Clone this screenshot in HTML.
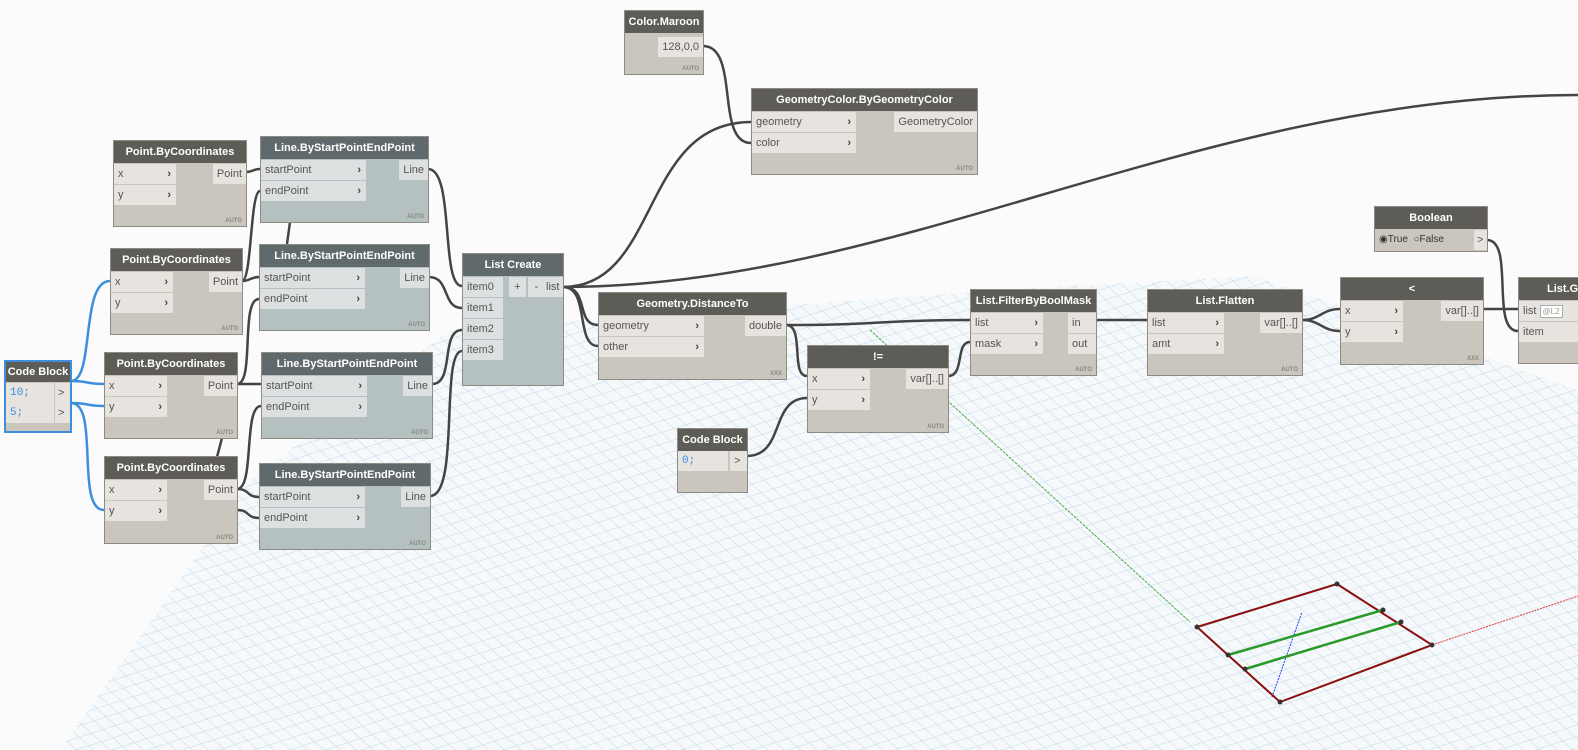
<!DOCTYPE html>
<html><head><meta charset="utf-8">
<style>
html,body{margin:0;padding:0}
body{width:1578px;height:750px;position:relative;overflow:hidden;background:#fbfbfb;font-family:"Liberation Sans",sans-serif;font-size:11px;color:#555}
.n{position:absolute;background:#cac6be;border:1px solid #8e8b85;box-sizing:border-box}
.n.l{background:#b5c1c0}
.h{height:22px;line-height:22px;background:#5d5c56;color:#fff;font-weight:bold;text-align:center;font-size:11px;white-space:nowrap;overflow:hidden}
.l .h{background:#60696b}
.r{position:absolute;height:20px;line-height:20px;background:#e7e4df;padding-left:4px;box-sizing:border-box;white-space:nowrap}
.l .r{background:#dde0e1}
.r b{position:absolute;right:5px;top:0;font-weight:bold;color:#444}
.o{position:absolute;height:20px;line-height:20px;background:#e7e4df;right:0;padding:0 4px;box-sizing:border-box;white-space:nowrap}
.l .o{background:#dde0e1}
.a{position:absolute;right:4px;bottom:2px;font-size:6px;font-weight:bold;color:#8a877f}
.cb{color:#3b8ee0;font-family:"Liberation Mono",monospace}
svg{position:absolute;left:0;top:0}
</style></head><body>
<svg width="1578" height="750">
<defs>
<pattern id="pa" width="11" height="11" patternUnits="userSpaceOnUse" patternTransform="rotate(-48)"><line x1="0" y1="0" x2="0" y2="11" stroke="#c6dae6" stroke-width="1.1"/></pattern>
<pattern id="pb" width="11" height="11" patternUnits="userSpaceOnUse" patternTransform="rotate(-108)"><line x1="0" y1="0" x2="0" y2="11" stroke="#c6dae6" stroke-width="1.1"/></pattern>
<clipPath id="gc"><polygon points="60,750 250,480 450,330 1000,290 1255,276 1578,390 1578,750"/></clipPath>
</defs>
<g clip-path="url(#gc)">
<rect width="1578" height="750" fill="#f6f9fb"/>
<rect width="1578" height="750" fill="url(#pa)"/>
<rect width="1578" height="750" fill="url(#pb)"/>
</g>
<line x1="870" y1="330" x2="1190" y2="622" stroke="#4caa4c" stroke-width="1" stroke-dasharray="3,1"/>
<line x1="1432" y1="645" x2="1578" y2="596" stroke="#f04040" stroke-width="1" stroke-dasharray="2,1"/>
<line x1="1272" y1="697" x2="1302" y2="612" stroke="#2a3ff0" stroke-width="1" stroke-dasharray="2,1"/>
<g stroke="#8b1010" stroke-width="2" fill="none"><polygon points="1197,627 1337,584 1432,645 1280,702"/></g>
<g stroke="#2a9a2a" stroke-width="2.5"><line x1="1228" y1="655" x2="1383" y2="610"/><line x1="1245" y1="669" x2="1401" y2="622"/></g>
<g fill="#333"><circle cx="1197" cy="627" r="2.5"/><circle cx="1337" cy="584" r="2.5"/><circle cx="1432" cy="645" r="2.5"/><circle cx="1280" cy="702" r="2.5"/><circle cx="1228" cy="655" r="2.5"/><circle cx="1383" cy="610" r="2.5"/><circle cx="1245" cy="669" r="2.5"/><circle cx="1401" cy="622" r="2.5"/></g>
<g stroke="#3d8fdc" stroke-width="2.5" fill="none">
<path d="M71,381 C95,381 80,281 110,281"/>
<path d="M71,381 C90,381 85,384 104,384"/>
<path d="M71,403 C90,403 85,406 104,406"/>
<path d="M71,403 C100,403 75,510 104,510"/>
</g>
<g stroke="#444" stroke-width="2.5" fill="none">
<path d="M246,172 C253,172 253,169 260,169"/>
<path d="M242,281 C252,281 250,191 260,191"/>
<path d="M242,281 C250,281 251,277 259,277"/>
<path d="M237,384 C255,384 240,299 259,299"/>
<path d="M237,384 C250,384 248,384 261,384"/>
<path d="M237,489 C255,489 243,406 261,406"/>
<path d="M237,489 C250,489 246,497 259,497"/>
<path d="M237,510 C250,510 246,518 259,518"/>
<path d="M290,222 L287,244"/>
<path d="M222,438 L217,457"/>
<path d="M428,169 C455,169 440,286 462,286"/>
<path d="M429,277 C450,277 442,308 462,308"/>
<path d="M432,384 C455,384 440,330 462,330"/>
<path d="M430,496 C460,496 440,351 462,351"/>
<path d="M563,287 C660,287 640,122 751,122"/>
<path d="M703,46 C740,46 715,143 751,143"/>
<path d="M563,287 C900,287 1200,95 1578,95"/>
<path d="M563,287 C590,287 575,325 598,325"/>
<path d="M563,287 C590,287 575,346 598,346"/>
<path d="M786,325 C880,325 880,320 970,320"/>
<path d="M786,325 C805,325 790,376 807,376"/>
<path d="M747,456 C785,456 770,398 807,398"/>
<path d="M948,376 C965,376 955,342 970,342"/>
<path d="M1096,320 L1147,320"/>
<path d="M1302,320 C1320,320 1322,309 1340,309"/>
<path d="M1302,320 C1320,320 1322,331 1340,331"/>
<path d="M1483,309 L1518,309"/>
<path d="M1487,240 C1515,240 1490,331 1518,331"/>
</g>
</svg>

<div class="n" style="left:624px;top:10px;width:80px;height:65px"><div class="h">Color.Maroon</div><div class="o" style="top:26px">128,0,0</div><div class="a">AUTO</div></div>
<div class="n" style="left:751px;top:88px;width:227px;height:87px"><div class="h">GeometryColor.ByGeometryColor</div>
<div class="r" style="left:0;top:23px;width:104px">geometry<b>›</b></div><div class="r" style="left:0;top:44px;width:104px">color<b>›</b></div>
<div class="o" style="top:23px">GeometryColor</div><div class="a">AUTO</div></div>

<div class="n" style="left:113px;top:140px;width:134px;height:87px"><div class="h">Point.ByCoordinates</div><div class="r" style="left:0;top:23px;width:62px">x<b>›</b></div><div class="r" style="left:0;top:44px;width:62px">y<b>›</b></div><div class="o" style="top:23px">Point</div><div class="a">AUTO</div></div>
<div class="n" style="left:110px;top:248px;width:133px;height:87px"><div class="h">Point.ByCoordinates</div><div class="r" style="left:0;top:23px;width:62px">x<b>›</b></div><div class="r" style="left:0;top:44px;width:62px">y<b>›</b></div><div class="o" style="top:23px">Point</div><div class="a">AUTO</div></div>
<div class="n" style="left:104px;top:352px;width:134px;height:87px"><div class="h">Point.ByCoordinates</div><div class="r" style="left:0;top:23px;width:62px">x<b>›</b></div><div class="r" style="left:0;top:44px;width:62px">y<b>›</b></div><div class="o" style="top:23px">Point</div><div class="a">AUTO</div></div>
<div class="n" style="left:104px;top:456px;width:134px;height:88px"><div class="h">Point.ByCoordinates</div><div class="r" style="left:0;top:23px;width:62px">x<b>›</b></div><div class="r" style="left:0;top:44px;width:62px">y<b>›</b></div><div class="o" style="top:23px">Point</div><div class="a">AUTO</div></div>

<div class="n l" style="left:260px;top:136px;width:169px;height:87px"><div class="h">Line.ByStartPointEndPoint</div><div class="r" style="left:0;top:23px;width:105px">startPoint<b>›</b></div><div class="r" style="left:0;top:44px;width:105px">endPoint<b>›</b></div><div class="o" style="top:23px">Line</div><div class="a">AUTO</div></div>
<div class="n l" style="left:259px;top:244px;width:171px;height:87px"><div class="h">Line.ByStartPointEndPoint</div><div class="r" style="left:0;top:23px;width:105px">startPoint<b>›</b></div><div class="r" style="left:0;top:44px;width:105px">endPoint<b>›</b></div><div class="o" style="top:23px">Line</div><div class="a">AUTO</div></div>
<div class="n l" style="left:261px;top:352px;width:172px;height:87px"><div class="h">Line.ByStartPointEndPoint</div><div class="r" style="left:0;top:23px;width:105px">startPoint<b>›</b></div><div class="r" style="left:0;top:44px;width:105px">endPoint<b>›</b></div><div class="o" style="top:23px">Line</div><div class="a">AUTO</div></div>
<div class="n l" style="left:259px;top:463px;width:172px;height:87px"><div class="h">Line.ByStartPointEndPoint</div><div class="r" style="left:0;top:23px;width:105px">startPoint<b>›</b></div><div class="r" style="left:0;top:44px;width:105px">endPoint<b>›</b></div><div class="o" style="top:23px">Line</div><div class="a">AUTO</div></div>

<div class="n" style="left:4px;top:360px;width:68px;height:73px;border:2px solid #3d8fdc"><div class="h" style="height:20px;line-height:20px">Code Block</div>
<div class="r cb" style="left:0;top:21px;width:48px">10;</div><div class="r cb" style="left:0;top:41px;width:48px;background:#e7e4df">5;</div>
<div class="o" style="top:21px;width:15px;padding:0 3px">&gt;</div><div class="o" style="top:41px;width:15px;padding:0 3px">&gt;</div></div>

<div class="n l" style="left:462px;top:253px;width:102px;height:133px"><div class="h">List Create</div>
<div class="r" style="left:0;top:23px;width:40px">item0</div><div class="r" style="left:0;top:44px;width:40px">item1</div><div class="r" style="left:0;top:65px;width:40px">item2</div><div class="r" style="left:0;top:86px;width:40px">item3</div>
<div class="o" style="top:23px;right:37px;width:17px;text-align:center;padding:0">+</div><div class="o" style="top:23px;right:18px;width:17px;text-align:center;padding:0">-</div><div class="o" style="top:23px;width:20px;padding:0 3px">list</div></div>

<div class="n" style="left:598px;top:292px;width:189px;height:88px"><div class="h">Geometry.DistanceTo</div><div class="r" style="left:0;top:23px;width:105px">geometry<b>›</b></div><div class="r" style="left:0;top:44px;width:105px">other<b>›</b></div><div class="o" style="top:23px">double</div><div class="a">XXX</div></div>

<div class="n" style="left:807px;top:345px;width:142px;height:88px"><div class="h">!=</div><div class="r" style="left:0;top:23px;width:62px">x<b>›</b></div><div class="r" style="left:0;top:44px;width:62px">y<b>›</b></div><div class="o" style="top:23px">var[]..[]</div><div class="a">AUTO</div></div>

<div class="n" style="left:677px;top:428px;width:71px;height:65px"><div class="h">Code Block</div><div class="r cb" style="left:0;top:22px;width:50px">0;</div><div class="o" style="top:22px;width:17px;padding:0 4px">&gt;</div></div>

<div class="n" style="left:970px;top:289px;width:127px;height:87px"><div class="h">List.FilterByBoolMask</div><div class="r" style="left:0;top:23px;width:72px">list<b>›</b></div><div class="r" style="left:0;top:44px;width:72px">mask<b>›</b></div><div class="o" style="top:23px;width:28px">in</div><div class="o" style="top:44px;width:28px">out</div><div class="a">AUTO</div></div>

<div class="n" style="left:1147px;top:289px;width:156px;height:87px"><div class="h">List.Flatten</div><div class="r" style="left:0;top:23px;width:76px">list<b>›</b></div><div class="r" style="left:0;top:44px;width:76px">amt<b>›</b></div><div class="o" style="top:23px">var[]..[]</div><div class="a">AUTO</div></div>

<div class="n" style="left:1340px;top:277px;width:144px;height:88px"><div class="h">&lt;</div><div class="r" style="left:0;top:23px;width:62px">x<b>›</b></div><div class="r" style="left:0;top:44px;width:62px">y<b>›</b></div><div class="o" style="top:23px">var[]..[]</div><div class="a">XXX</div></div>

<div class="n" style="left:1374px;top:206px;width:114px;height:46px"><div class="h">Boolean</div>
<div class="r" style="left:0;top:23px;width:100px;background:#cac6be;font-size:10px;color:#333">◉True&nbsp;&nbsp;○False</div><div class="o" style="top:23px;width:13px;padding:0 3px">&gt;</div></div>

<div class="n" style="left:1518px;top:277px;width:70px;height:87px"><div class="h" style="text-align:left;padding-left:28px">List.GetItemAtIndex</div>
<div class="r" style="left:0;top:23px;width:70px">list <span style="display:inline-block;border:1px solid #aaa;background:#fff;font-size:8px;line-height:11px;padding:0 2px;color:#999">@L2</span></div><div class="r" style="left:0;top:44px;width:70px">item</div></div>
</body></html>
